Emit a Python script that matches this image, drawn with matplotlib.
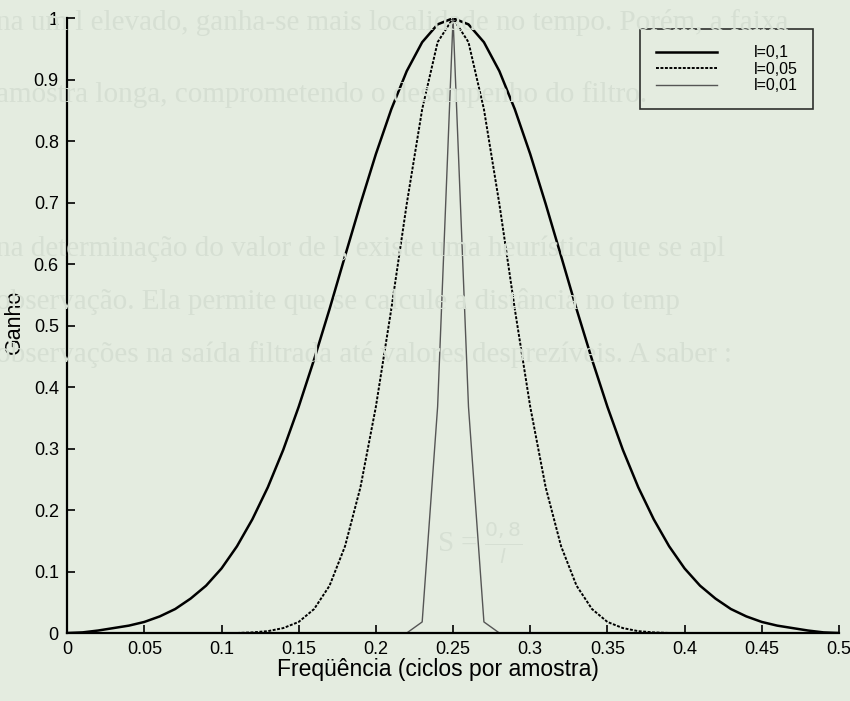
import matplotlib
matplotlib.use("Agg")
import matplotlib.pyplot as plt

# frequencia (ciclos por amostra), passo de 0,01
freq = [i / 100 for i in range(51)]

# ganho para l = 0,1
gain_l010 = [0.000, 0.001, 0.004, 0.008, 0.012, 0.018, 0.027, 0.039, 0.056, 0.077,
             0.105, 0.141, 0.185, 0.237, 0.298, 0.368, 0.445, 0.527, 0.613, 0.698,
             0.779, 0.852, 0.914, 0.961, 0.990, 1.000, 0.990, 0.961, 0.914, 0.852,
             0.779, 0.698, 0.613, 0.527, 0.445, 0.368, 0.298, 0.237, 0.185, 0.141,
             0.105, 0.077, 0.056, 0.039, 0.027, 0.018, 0.012, 0.008, 0.004, 0.001,
             0.000]

# ganho para l = 0,05
gain_l005 = [0.0] * 12 + [0.001, 0.003, 0.008, 0.018, 0.039, 0.077, 0.141, 0.237,
                          0.368, 0.527, 0.698, 0.852, 0.961, 1.000, 0.961, 0.852,
                          0.698, 0.527, 0.368, 0.237, 0.141, 0.077, 0.039, 0.018,
                          0.008, 0.003, 0.001] + [0.0] * 12

# ganho para l = 0,01
gain_l001 = [0.0] * 22 + [0.000, 0.018, 0.368, 1.000, 0.368, 0.018, 0.000] + [0.0] * 22

labels = ["l=0,1", "l=0,05", "l=0,01"]
xticks = [0, 0.05, 0.1, 0.15, 0.2, 0.25, 0.3, 0.35, 0.4, 0.45, 0.5]
yticks = [0, 0.1, 0.2, 0.3, 0.4, 0.5, 0.6, 0.7, 0.8, 0.9, 1]

# texto da pagina que aparece por tras do grafico
page_lines = [
    ("na um l elevado, ganha-se mais localidade no tempo. Porém, a faixa", -0.005, 0.968),
    ("amostra longa, comprometendo o desempenho do filtro.", -0.005, 0.865),
    ("na determinação do valor de l, existe uma heurística que se apl", -0.005, 0.645),
    ("observação. Ela permite que se calcule a distância no temp", -0.005, 0.570),
    ("observações na saída filtrada até valores desprezíveis. A saber :", -0.005, 0.495),
]

bg = "#e4ece0"
ghost = "#d6dfd3"
fig = plt.figure(figsize=(8.5, 7.01), dpi=100, facecolor=bg)

for txt, x, y in page_lines:
    fig.text(x, y, txt, fontsize=21, family="Liberation Serif", color=ghost,
             va="center", ha="left", zorder=0)
fig.text(0.565, 0.225, "S = $\\frac{0,8}{l}$", fontsize=21, family="Liberation Serif",
         color=ghost, va="center", ha="center", zorder=0)

ax = fig.add_axes([0.079, 0.097, 0.908, 0.877])
ax.set_facecolor("none")

ax.plot(freq, gain_l010, color="black", lw=1.8, label=labels[0])
ax.plot(freq, gain_l005, color="black", lw=1.4, linestyle=(0, (1.5, 0.8)), label=labels[1])
ax.plot(freq, gain_l001, color="#555555", lw=1.0, label=labels[2])

ax.set_xlim(0, 0.5)
ax.set_ylim(0, 1)
ax.set_xticks(xticks)
ax.set_yticks(yticks)
ax.set_xticklabels([f"{t:g}" for t in xticks], family="Liberation Sans", fontsize=13)
ax.set_yticklabels([f"{t:g}" for t in yticks], family="Liberation Sans", fontsize=13)
ax.tick_params(direction="in", length=6, width=1.2, pad=6)

for side in ["top", "right"]:
    ax.spines[side].set_visible(False)
for side in ["left", "bottom"]:
    ax.spines[side].set_linewidth(1.6)

ax.set_xlabel("Freqüência (ciclos por amostra)", family="Liberation Sans", fontsize=16.5,
              va="center")
ax.xaxis.set_label_coords(0.48, -0.06)
ax.set_ylabel("Ganho", family="Liberation Sans", fontsize=15.5, va="center")
ax.yaxis.set_label_coords(-0.068, 0.506)

leg = ax.legend(loc="upper right", bbox_to_anchor=(0.967, 0.982), fancybox=False,
                frameon=True, edgecolor="black", facecolor="none", handlelength=3.8,
                handletextpad=2.3, labelspacing=0.1, borderpad=1.0, borderaxespad=0,
                prop={"family": "Liberation Sans", "size": 11.5})
leg.get_frame().set_linewidth(1.2)

fig.savefig("out.png", dpi=100, facecolor=bg)
